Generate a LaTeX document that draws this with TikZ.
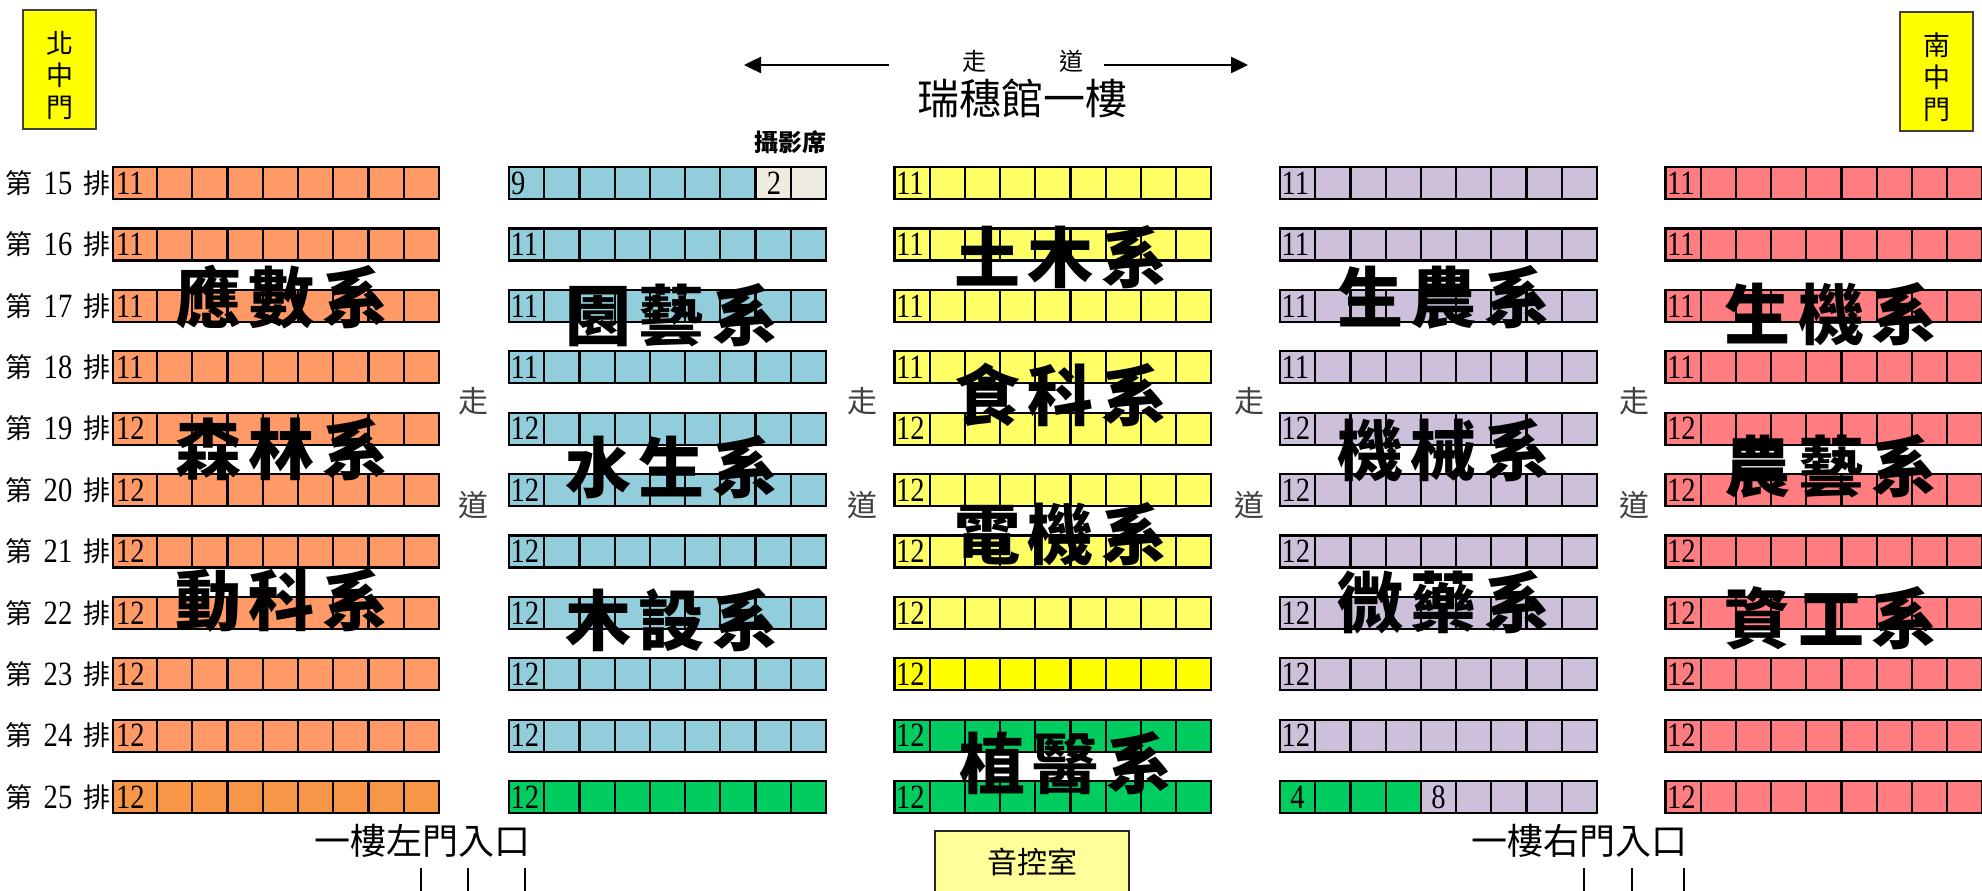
\documentclass[tikz,border=0pt]{standalone}
\usepackage{fontspec}
\setmainfont{Liberation Serif}
\newfontfamily\cjk{Noto Sans CJK TC}
\usetikzlibrary{arrows.meta}
\definecolor{cOr}{HTML}{FF9966}
\definecolor{cOrD}{HTML}{F79646}
\definecolor{cBl}{HTML}{92CDDC}
\definecolor{cYe}{HTML}{FFFF66}
\definecolor{cYeD}{HTML}{FFFF00}
\definecolor{cGr}{HTML}{00CC60}
\definecolor{cPu}{HTML}{CCC0DA}
\definecolor{cRd}{HTML}{FF7C80}
\definecolor{cBe}{HTML}{EEECE1}
\definecolor{cGate}{HTML}{FFFF00}
\definecolor{cRoom}{HTML}{FFFF99}
\definecolor{cAisle}{HTML}{404040}
\tikzset{
  seatline/.style={line width=2.2pt, line join=miter},
  num/.style={font=\fontsize{34}{34}\selectfont, inner sep=0pt, anchor=west},
  cnum/.style={font=\fontsize{34}{34}\selectfont, inner sep=0pt},
  rowcjk/.style={font=\cjk\fontsize{27}{27}\selectfont, inner sep=0pt},
  rownum/.style={font=\fontsize{34}{34}\selectfont, inner sep=0pt},
  dept/.style={font=\cjk\bfseries\fontsize{66}{66}\selectfont, inner sep=0pt},
  gatebox/.style={draw=black!75, line width=2pt, fill=cGate, minimum width=73pt, minimum height=119pt, inner sep=0pt},
  gatetxt/.style={font=\cjk\fontsize{27}{32}\selectfont, align=center, inner sep=0pt},
  aisle/.style={font=\cjk\fontsize{30}{30}\selectfont, text=cAisle, inner sep=0pt},
  toptxt/.style={font=\cjk\fontsize{24}{24}\selectfont, inner sep=0pt},
  hall/.style={font=\cjk\fontsize{42}{42}\selectfont, inner sep=0pt},
  cam/.style={font=\cjk\bfseries\fontsize{24}{24}\selectfont, inner sep=0pt},
  door/.style={font=\cjk\fontsize{36}{36}\selectfont, inner sep=0pt},
  room/.style={draw=black!85, line width=2pt, fill=cRoom, minimum width=194pt, minimum height=62pt, font=\cjk\fontsize{30}{30}\selectfont, inner sep=0pt},
  arrowline/.style={line width=2.5pt, -{Triangle[length=17pt,width=16pt]}},
  tick/.style={line width=1.6pt},
}
\newcommand{\seatgrid}[3]{%
  \draw[seatline] (#1,#3) rectangle ({#1+#2+8*35.2},{#3+32});
  \foreach \i in {0,...,7}{\draw[seatline] ({#1+#2+\i*35.2},#3) -- ++(0,32);}
}
\newcommand{\dtxt}[3]{#1\kern8pt#2\kern8pt#3}
\newcommand{\cn}[1]{\scalebox{0.84}[1]{#1}}
\begin{document}
\begin{tikzpicture}[x=1pt,y=-1pt]
\clip (0,0) rectangle (1982,891);
\fill[white] (0,0) rectangle (1982,891);
% gates
\node[gatebox] (northbox) at (59.5,69.5) {};
\node[gatetxt] (northtxt) at (59.5,75.5) {北\\中\\門};
\node[gatebox] (southbox) at (1936.5,71.5) {};
\node[gatetxt] (southtxt) at (1937,77) {南\\中\\門};
% top: aisle and hall
\node[toptxt] (tz) at (974,61) {走};
\node[toptxt] (td) at (1071,61) {道};
\coordinate (la) at (889,65);
\coordinate (lb) at (744,65);
\coordinate (ra) at (1104,65);
\coordinate (rb) at (1248,65);
\draw[arrowline] (la) -- (lb);
\draw[arrowline] (ra) -- (rb);
\node[hall] (hall) at (1022,98) {瑞穗館一樓};
\node[cam] (cam) at (790,142) {攝影席};
% seat rows
\foreach \k in {0,...,10}{
  \pgfmathsetmacro\yt{167+61.4*\k}
  \pgfmathsetmacro\yc{\yt+16}
  \pgfmathtruncatemacro\row{15+\k}
  \ifnum\k<4 \def\nn{11}\else\def\nn{12}\fi
  % row label
  \node[rowcjk] (di\row) at (19,\yc) {第};
  \node[rownum] (rn\row) at (58,\yc) {\cn{\row}};
  \node[rowcjk] (pai\row) at (97,\yc) {排};
  % block A (orange)
  \ifnum\k=10 \def\ca{cOrD}\else\def\ca{cOr}\fi
  \fill[\ca] (113,\yt) rectangle (439,{\yt+32});
  % block B (blue)
  \ifnum\k=10 \def\cb{cGr}\else\def\cb{cBl}\fi
  \fill[\cb] (509,\yt) rectangle (825.8,{\yt+32});
  \ifnum\k=0 \fill[cBe] ({509+7*35.2},\yt) rectangle (825.8,{\yt+32}); \fi
  % block C (yellow)
  \def\cc{cYe}
  \ifnum\k=8 \def\cc{cYeD}\fi
  \ifnum\k>8 \def\cc{cGr}\fi
  \fill[\cc] (894.5,\yt) rectangle (1211.3,{\yt+32});
  % block D (purple)
  \fill[cPu] (1280,\yt) rectangle (1596.8,{\yt+32});
  \ifnum\k=10 \fill[cGr] (1280,\yt) rectangle ({1280+4*35.2},{\yt+32}); \fi
  % block E (red)
  \fill[cRd] (1665.5,\yt) rectangle (1982.3,{\yt+32});
  % grids
  \draw[seatline] (113,\yt) rectangle (439,{\yt+32});
  \foreach \i in {0,...,7}{\draw[seatline] ({157+\i*35.25},\yt) -- ++(0,32);}
  \seatgrid{509}{35.2}{\yt}
  \seatgrid{894.5}{35.2}{\yt}
  \seatgrid{1280}{35.2}{\yt}
  \seatgrid{1665.5}{35.2}{\yt}
  % numbers
  \node[num] (na\row) at (116,\yc) {\cn{\nn}};
  \ifnum\k=0
    \node[num] (nb\row) at (511,\yc) {\cn{9}};
    \node[cnum] (nbx\row) at ({509+7.5*35.2+1},\yc) {\cn{2}};
  \else
    \node[num] (nb\row) at (510.5,\yc) {\cn{\nn}};
  \fi
  \node[num] (nc\row) at (896,\yc) {\cn{\nn}};
  \ifnum\k=10
    \node[cnum] (nd\row) at ({1280+0.5*35.2},\yc) {\cn{4}};
    \node[cnum] (ndx\row) at ({1280+4.5*35.2},\yc) {\cn{8}};
  \else
    \node[num] (nd\row) at (1281.5,\yc) {\cn{\nn}};
  \fi
  \node[num] (ne\row) at (1667,\yc) {\cn{\nn}};
}
% aisle labels
\foreach \x/\n in {473/a,862/b,1249/c,1634/d}{
  \node[aisle] (az\n) at (\x,401) {走};
  \node[aisle] (ad\n) at (\x,505) {道};
}
% department labels
\node[dept] (d1) at (282,297) {\dtxt{應}{數}{系}};
\node[dept] (d2) at (282,449) {\dtxt{森}{林}{系}};
\node[dept] (d3) at (282,600) {\dtxt{動}{科}{系}};
\node[dept] (d4) at (672,315) {\dtxt{園}{藝}{系}};
\node[dept] (d5) at (672,467) {\dtxt{水}{生}{系}};
\node[dept] (d6) at (672,620) {\dtxt{木}{設}{系}};
\node[dept] (d7) at (1061,257) {\dtxt{土}{木}{系}};
\node[dept] (d8) at (1061,395) {\dtxt{食}{科}{系}};
\node[dept] (d9) at (1061,534) {\dtxt{電}{機}{系}};
\node[dept] (d10) at (1066,763) {\dtxt{植}{醫}{系}};
\node[dept] (d11) at (1444,297) {\dtxt{生}{農}{系}};
\node[dept] (d12) at (1444,450) {\dtxt{機}{械}{系}};
\node[dept] (d13) at (1444,602) {\dtxt{微}{藥}{系}};
\node[dept] (d14) at (1831,314) {\dtxt{生}{機}{系}};
\node[dept] (d15) at (1831,466) {\dtxt{農}{藝}{系}};
\node[dept] (d16) at (1831,618) {\dtxt{資}{工}{系}};
% bottom
\node[door] (ldoor) at (422,841) {一樓左門入口};
\node[door] (rdoor) at (1579,841) {一樓右門入口};
\foreach \x/\n in {421/1,468/2,525/3,1584/4,1632/5,1684/6}{
  \coordinate (t\n a) at (\x,868);
  \coordinate (t\n b) at (\x,892);
  \draw[tick] (t\n a) -- (t\n b);
}
\node[room] (ctrl) at (1032,862) {音控室};
\end{tikzpicture}
\end{document}
